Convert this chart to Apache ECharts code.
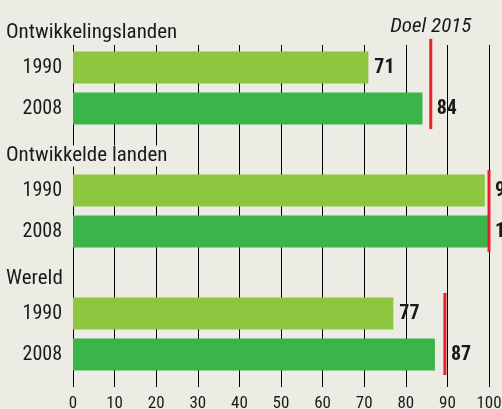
<!DOCTYPE html>
<html>
<head>
<meta charset="utf-8">
<script src="https://cdn.jsdelivr.net/npm/echarts@6/dist/echarts.min.js"></script>
<style>
  html, body { margin: 0; padding: 0; background: #edece4; }
  #chart { width: 502px; height: 409px; }
</style>
</head>
<body>
<div id="chart"></div>
<script>
const groups = ['Ontwikkelingslanden', 'Ontwikkelde landen', 'Wereld']
const years = ['1990', '2008']
const values1990 = [71, 99, 77]
const values2008 = [84, 100, 87]
const targets2015 = [86, 100, 89.4]
const targetLabel = 'Doel 2015'
const xTicks = [0, 10, 20, 30, 40, 50, 60, 70, 80, 90, 100]

const FONT = "'Liberation Sans Narrow', 'Noto Sans Condensed', 'Roboto Condensed', 'DejaVu Sans Condensed', sans-serif"
const BG = '#edece4'
const INK = '#1a1a1a'
const LIGHT = '#8dc63f'
const DARK = '#3ab54a'
const RED = '#e8202a'

const gridLeft = 73, gridRight = 13
const pxPerUnit = (502 - gridLeft - gridRight) / 100

// one slot per title row and per year row
const categories = []
const barData = []
const targetData = []
groups.forEach((g, i) => {
  categories.push(g)
  barData.push(null)
  const vals = [values1990[i], values2008[i]]
  years.forEach((y, j) => {
    categories.push(y)
    const v = vals[j]
    const diff = targets2015[i] - v
    const dist = diff >= 0 && diff < 5 ? diff * pxPerUnit + 6 : 6
    barData.push({
      value: v,
      itemStyle: { color: j === 0 ? LIGHT : DARK },
      label: { distance: dist },
    })
  })
  targetData.push([targets2015[i], i * 3 + 1, i * 3 + 2])
})

const chart = echarts.init(document.getElementById('chart'))

chart.setOption({
  backgroundColor: BG,
  animation: false,
  grid: [
    { left: gridLeft, right: gridRight, top: 45, bottom: 22, outerBoundsMode: 'none' },
    { left: gridLeft, right: gridRight, top: 6, bottom: 34, outerBoundsMode: 'none' },
  ],
  xAxis: [
    {
      type: 'value', gridIndex: 0, min: 0, max: 100, interval: 10,
      axisLine: { show: false },
      axisTick: { show: false },
      splitLine: { show: true, lineStyle: { color: '#000', width: 1 } },
      axisLabel: {
        margin: 8,
        color: INK,
        fontFamily: FONT,
        fontSize: 17,
        hideOverlap: false,
        formatter: v => xTicks.includes(v) ? String(v) : '',
      },
    },
    { type: 'value', gridIndex: 1, min: 0, max: 100, show: false },
  ],
  yAxis: [
    { type: 'value', gridIndex: 0, show: false },
    {
      type: 'category',
      gridIndex: 1,
      data: categories,
      inverse: true,
      z: 10,
      axisLine: { show: false },
      axisTick: { show: false },
      splitLine: { show: false },
      axisLabel: {
        interval: 0,
        align: 'left',
        margin: 67,
        formatter: (val, idx) => idx % 3 === 0 ? '{s| }\n{t|' + val + '}' : '{y|' + val + '}',
        rich: {
          s: { fontSize: 1, lineHeight: 13 },
          t: {
            fontSize: 21, fontFamily: FONT, color: INK, lineHeight: 24,
            backgroundColor: BG, padding: [0, 4, 0, 0],
          },
          y: { fontSize: 20, fontFamily: FONT, color: INK, width: 56, align: 'right' },
        },
      },
    },
  ],
  series: [
    {
      type: 'bar',
      xAxisIndex: 1,
      yAxisIndex: 1,
      data: barData,
      barWidth: 32,
      label: {
        show: true,
        position: 'right',
        color: INK,
        fontFamily: FONT,
        fontWeight: 'bold',
        fontSize: 20,
      },
    },
    {
      type: 'custom',
      xAxisIndex: 1,
      yAxisIndex: 1,
      encode: { x: 0, y: [1, 2] },
      data: targetData,
      z: 5,
      renderItem(params, api) {
        const gi = params.dataIndex
        const x = api.coord([api.value(0), api.value(1)])[0]
        const band = api.size([0, 1])[1]
        const yA = api.coord([0, api.value(1)])[1] - band * (gi === 0 ? 0.7 : 0.5)
        const yB = api.coord([0, api.value(2)])[1] + band * 0.5
        const children = [{
          type: 'line',
          shape: { x1: x, y1: yA, x2: x, y2: yB },
          style: { stroke: RED, lineWidth: 3 },
        }]
        if (gi === 0) {
          children.push({
            type: 'text',
            style: {
              text: targetLabel,
              x: x,
              y: yA - 2,
              align: 'center',
              verticalAlign: 'bottom',
              fontFamily: FONT,
              fontStyle: 'italic',
              fontSize: 21,
              fill: INK,
            },
          })
        }
        return { type: 'group', children }
      },
    },
  ],
})
</script>
</body>
</html>
